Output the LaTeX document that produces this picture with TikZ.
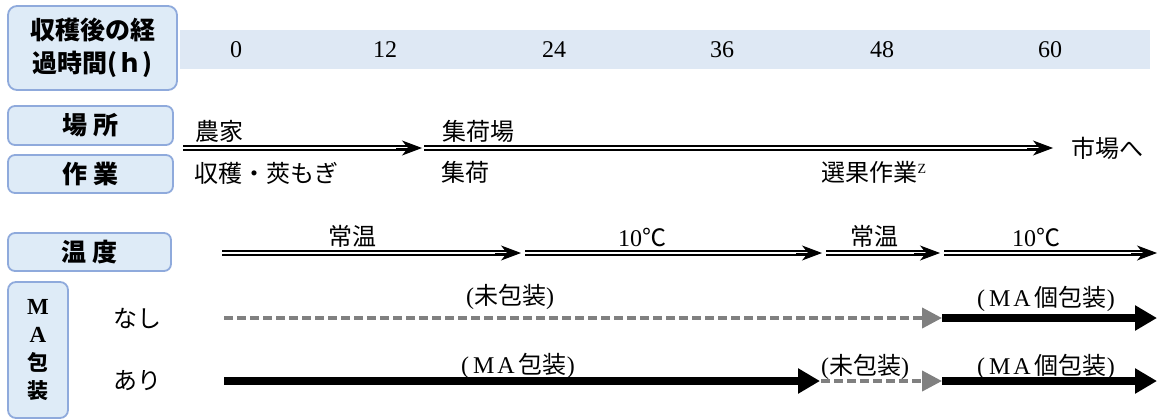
\documentclass[tikz,border=0pt]{standalone}
\usepackage{fontspec}
\setmainfont{Liberation Serif}
\newfontfamily\jp{Noto Sans CJK JP}
\usetikzlibrary{arrows.meta}
\definecolor{boxfill}{HTML}{DEEBF7}
\definecolor{boxline}{HTML}{8FAADC}
\definecolor{bandfill}{HTML}{DEE8F4}
\definecolor{dgray}{HTML}{808080}
\newcommand{\maT}{{\rmfamily M\hspace{3pt}A}}
\newcommand{\lp}{{\rmfamily(}}
\newcommand{\rp}{{\rmfamily)}}
\begin{document}
\begin{tikzpicture}[x=1pt,y=-1pt,
  hdr/.style={draw=boxline, line width=1.8pt, fill=boxfill, rounded corners=9pt,
    font=\jp\bfseries\fontsize{25}{33}\selectfont, align=center, inner sep=0pt},
  lbl/.style={font=\jp\fontsize{24}{27}\selectfont, inner sep=0pt},
  num/.style={font=\fontsize{24}{27}\selectfont, inner sep=0pt},
  dblline/.style={double distance=2pt, line width=2pt, shorten >=12pt},
  dbltip/.style={line width=1pt, -{Stealth[length=20pt,width=15pt,inset=6pt]}},
  pkarrow/.style={line width=8pt, -{Triangle[length=22pt,width=24pt]}},
  noarrow/.style={dgray, line width=4pt, dash pattern=on 9pt off 4pt,
    -{Triangle[length=20pt,width=20pt]}}
]
\useasboundingbox (0,0) rectangle (1158,418);

% header boxes
\node[hdr, minimum width=169pt, minimum height=84pt] (hTime) at (92.5,48)
  {収穫後の経\\過時間(ｈ)};
\node[hdr, minimum width=165pt, minimum height=39pt, rounded corners=7pt] (hPlace) at (90.5,125.5) {場 所};
\node[hdr, minimum width=165pt, minimum height=38pt, rounded corners=7pt] (hWork) at (90.5,174) {作 業};
\node[hdr, minimum width=163pt, minimum height=38pt, rounded corners=7pt] (hTemp) at (89.5,252) {温 度};
\node[hdr, minimum width=60pt, minimum height=136pt, rounded corners=8pt,
  font=\jp\bfseries\fontsize{21}{28}\selectfont] (hMA) at (38,350)
  {{\rmfamily\bfseries\fontsize{23}{28}\selectfont M}\\{\rmfamily\bfseries\fontsize{23}{28}\selectfont A}\\包\\装};

% time band
\node[fill=bandfill, minimum width=970pt, minimum height=39pt, inner sep=0pt, anchor=north west] (band) at (180,30) {};
\node[num] (t0) at (236,50) {0};
\node[num] (t12) at (385,50) {12};
\node[num] (t24) at (554,50) {24};
\node[num] (t36) at (722,50) {36};
\node[num] (t48) at (882,50) {48};
\node[num] (t60) at (1050,50) {60};

% place / work
\coordinate (pa) at (183,148);
\coordinate (pb) at (422,148);
\coordinate (pc) at (424,148);
\coordinate (pd) at (1053,148);
\draw[dblline] (pa) -- (pb);
\draw[dbltip] ([xshift=-26pt]pb) -- (pb);
\draw[dblline] (pc) -- (pd);
\draw[dbltip] ([xshift=-26pt]pd) -- (pd);
\node[lbl] (farm) at (219,131) {農家};
\node[lbl] (harv) at (266,173) {収穫・莢もぎ};
\node[lbl] (shp) at (478,131) {集荷場};
\node[lbl] (shk) at (465,172) {集荷};
\node[lbl] (sel) at (874,172) {選果作業\raisebox{8pt}{\rmfamily\fontsize{14}{14}\selectfont Z}};
\node[lbl] (mkt) at (1107,148) {市場へ};

% temperature
\coordinate (ta) at (222,253);
\coordinate (tb) at (521,253);
\coordinate (tc) at (525,253);
\coordinate (td) at (822,253);
\coordinate (te) at (826,253);
\coordinate (tf) at (940,253);
\coordinate (tg) at (944,253);
\coordinate (th) at (1157,253);
\foreach \s/\e in {ta/tb, tc/td, te/tf, tg/th}{
  \draw[dblline] (\s) -- (\e);
  \draw[dbltip] ([xshift=-26pt]\e) -- (\e);
}
\node[lbl] (T1) at (352,236) {常温};
\node[num] (T2) at (642,237) {10{\jp ℃}};
\node[lbl] (T3) at (874,236) {常温};
\node[num] (T4) at (1036,237) {10{\jp ℃}};

% MA none
\node[lbl] (nashi) at (137,318) {なし};
\coordinate (na) at (224,318);
\coordinate (nb) at (942,318);
\coordinate (nc) at (942,318);
\coordinate (nd) at (1157,318);
\draw[noarrow] (na) -- (nb);
\draw[pkarrow] (nc) -- (nd);
\node[lbl] (n1) at (510,297) {\lp 未包装\rp};
\node[lbl] (n2) at (1046,299) {\lp\,\maT\,個包装\rp};

% MA yes
\node[lbl] (ari) at (137,381) {あり};
\coordinate (aa) at (224,381);
\coordinate (ab) at (820,381);
\coordinate (ac) at (821,381);
\coordinate (ad) at (942,381);
\coordinate (ae) at (942,381);
\coordinate (af) at (1157,381);
\draw[pkarrow] (aa) -- (ab);
\draw[noarrow] (ac) -- (ad);
\draw[pkarrow] (ae) -- (af);
\node[lbl] (a1) at (518,366) {\lp\,\maT\,包装\rp};
\node[lbl] (a2) at (865,367) {\lp 未包装\rp};
\node[lbl] (a3) at (1046,367) {\lp\,\maT\,個包装\rp};
\end{tikzpicture}
\end{document}
